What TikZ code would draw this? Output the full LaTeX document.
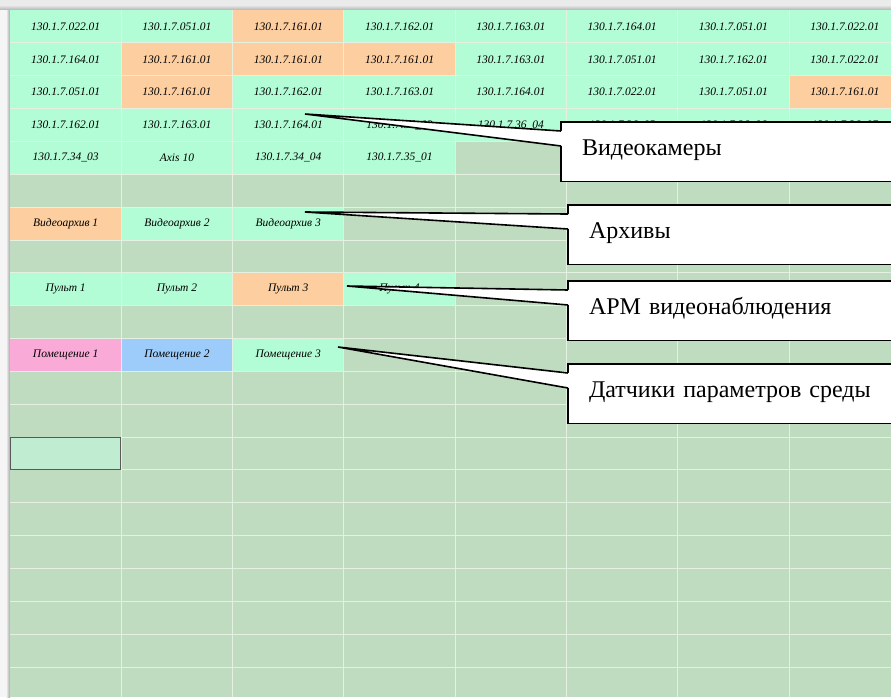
\documentclass[tikz,border=0pt]{standalone}
\usepackage{fontspec}
\setmainfont{Liberation Serif}
\usetikzlibrary{calc}
\definecolor{mint}{RGB}{178,252,214}
\definecolor{peach}{RGB}{252,206,160}
\definecolor{pinkcell}{RGB}{250,170,214}
\definecolor{bluecell}{RGB}{158,204,250}
\definecolor{money}{RGB}{192,220,192}
\definecolor{gridline}{RGB}{228,240,224}
\definecolor{selfill}{RGB}{192,236,210}

\begin{document}
\begin{tikzpicture}[x=1pt,y=-1pt,
  cell/.style={inner sep=0pt,minimum width=111.3pt,minimum height=32.85pt,font=\fontsize{11.5}{13}\selectfont\itshape},
  grid line/.style={draw=gridline,line width=0.9pt},
  callbox/.style={draw,line width=1.6pt,fill=white,anchor=north west,outer sep=0pt,minimum width=400pt,minimum height=59.5pt,inner xsep=21pt,text width=358pt,align=left,text height=17pt,text depth=10.5pt,font=\fontsize{24}{28}\selectfont},
  wedge/.style={line width=1.6pt,line join=miter}]
  \useasboundingbox (0,0) rectangle (891,697);
  \clip (0,0) rectangle (891,697);

  % window edges
  \fill[black!8] (0,0) rectangle (891,10);
  \shade[top color=black!8,bottom color=black!30] (0,5) rectangle (891,10);
  \fill[black!4] (0,10) rectangle (10,697);
  \shade[left color=black!4,right color=black!35] (6,10) rectangle (10,697);
  \fill[money] (10,10) rectangle (891,697);

  % sheet cells
  \foreach \r/\c/\f/\t in {
    0/0/mint/130.1.7.022.01, 0/1/mint/130.1.7.051.01, 0/2/peach/130.1.7.161.01, 0/3/mint/130.1.7.162.01,
    0/4/mint/130.1.7.163.01, 0/5/mint/130.1.7.164.01, 0/6/mint/130.1.7.051.01, 0/7/mint/130.1.7.022.01,
    1/0/mint/130.1.7.164.01, 1/1/peach/130.1.7.161.01, 1/2/peach/130.1.7.161.01, 1/3/peach/130.1.7.161.01,
    1/4/mint/130.1.7.163.01, 1/5/mint/130.1.7.051.01, 1/6/mint/130.1.7.162.01, 1/7/mint/130.1.7.022.01,
    2/0/mint/130.1.7.051.01, 2/1/peach/130.1.7.161.01, 2/2/mint/130.1.7.162.01, 2/3/mint/130.1.7.163.01,
    2/4/mint/130.1.7.164.01, 2/5/mint/130.1.7.022.01, 2/6/mint/130.1.7.051.01, 2/7/peach/130.1.7.161.01,
    3/0/mint/130.1.7.162.01, 3/1/mint/130.1.7.163.01, 3/2/mint/130.1.7.164.01, 3/3/mint/130.1.7.36\_03,
    3/4/mint/130.1.7.36\_04, 3/5/mint/130.1.7.36\_05, 3/6/mint/130.1.7.36\_06, 3/7/mint/130.1.7.36\_07,
    4/0/mint/130.1.7.34\_03, 4/1/mint/Axis 10, 4/2/mint/130.1.7.34\_04, 4/3/mint/130.1.7.35\_01,
    6/0/peach/Видеоархив 1, 6/1/mint/Видеоархив 2, 6/2/mint/Видеоархив 3,
    8/0/mint/Пульт 1, 8/1/mint/Пульт 2, 8/2/peach/Пульт 3, 8/3/mint/Пульт 4,
    10/0/pinkcell/Помещение 1, 10/1/bluecell/Помещение 2, 10/2/mint/Помещение 3}
    \node[cell,fill=\f] (r\r-\c) at ({10+111.3*(\c+.5)},{10+32.85*(\r+.5)}) {\t};

  % grid
  \foreach \k in {1,...,7}
    \draw[grid line] ({10+111.3*\k},10) -- ({10+111.3*\k},697);
  \foreach \k in {1,...,21}
    \draw[grid line] (10,{10+32.85*\k}) -- (891,{10+32.85*\k});

  % selected cell
  \node[cell,fill=selfill,draw=black!65,line width=1.2pt,minimum width=110pt,minimum height=31.5pt] (sel) at ({10+111.3*.5},{10+32.85*13.5}) {};

  % callouts
  \foreach \nm/\bx/\by/\tx/\ty/\lbl in {
    cams/561/122/305/114/Видеокамеры,
    arch/568/205/305/212/Архивы,
    arm/568/281/347/286/АРМ видеонаблюдения,
    env/568/364/338/347/Датчики параметров среды}{
    \node[callbox] (\nm) at (\bx,\by) {\lbl};
    \coordinate (\nm-tip) at (\tx,\ty);
    \fill[white] ($(\nm.north west)+(1.5,9)$) -- (\nm-tip) -- ($(\nm.north west)+(1.5,24)$) -- cycle;
    \draw[wedge] ($(\nm.north west)+(0,9)$) -- (\nm-tip) -- ($(\nm.north west)+(0,24)$);
  }
\end{tikzpicture}
\end{document}
